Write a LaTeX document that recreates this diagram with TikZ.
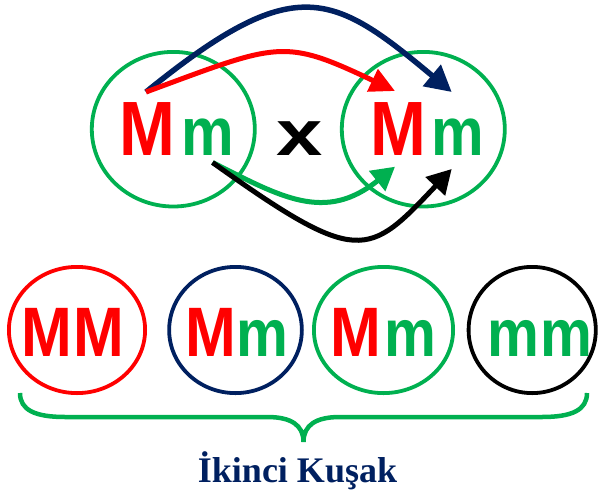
\documentclass[tikz,border=0pt]{standalone}
\usepackage{fontspec}
\usepackage{graphicx}
\usetikzlibrary{arrows.meta,shapes.geometric}
\newfontfamily\gfont{Liberation Sans}[FakeStretch=0.87]
\newfontfamily\xfont{Liberation Sans}
\newfontfamily\tfont{Liberation Serif}
\definecolor{gred}{HTML}{FF0000}
\definecolor{ggreen}{HTML}{00B050}
\definecolor{gnavy}{HTML}{002060}
\newcommand\domM[1]{{\fontsize{#1}{#1}\selectfont\color{gred}M}}
\newcommand\recm[1]{{\fontsize{#1}{#1}\selectfont\color{ggreen}m}}
\begin{document}
\begin{tikzpicture}[x=1pt,y=-1pt,
  ring/.style={ellipse, draw, line width=3.8pt, inner sep=0pt},
  geno/.style={anchor=base, inner sep=0pt, font=\gfont\bfseries},
  link/.style={line width=#1},
  link/.default=5pt
]
\useasboundingbox (0,0) rectangle (600,496);
% parent circles
\node[ring, draw=ggreen, minimum width=163pt, minimum height=154.6pt] (P1) at (173.3,129.2) {};
\node[ring, draw=ggreen, minimum width=163pt, minimum height=154.6pt] (P2) at (423.3,129.2) {};
% offspring circles
\node[ring, draw=gred,   minimum width=136.2pt, minimum height=126.2pt] (C1) at (77,330) {};
\node[ring, draw=gnavy,  minimum width=132.7pt, minimum height=126.2pt] (C2) at (235.5,330) {};
\node[ring, draw=ggreen, minimum width=139.2pt, minimum height=126.2pt] (C3) at (383.5,330) {};
\node[ring, draw=black,  minimum width=127.2pt, minimum height=126.2pt] (C4) at (532.2,330) {};
% parent genotypes
\node[geno] (T1) at (177,155) {\domM{77}\hspace{6pt}\recm{68}};
\node[geno] (T2) at (427.5,155) {\domM{77}\hspace{5pt}\recm{68}};
\node[anchor=base, inner sep=0pt] (cross) at (299.5,155) {\scalebox{1.3}[1]{\xfont\bfseries\fontsize{64}{64}\selectfont x}};
% offspring genotypes
\node[geno] (G1) at (73,356) {\domM{70}\hspace{1pt}\domM{70}};
\node[geno] (G2) at (237,356) {\domM{70}\hspace{1pt}\recm{67}};
\node[geno] (G3) at (383.5,356) {\domM{70}\hspace{2.5pt}\recm{67}};
\node[geno] (G4) at (540,356) {\recm{67}\hspace{1pt}\recm{67}};
% arrow ends
\coordinate (sM) at (146,92);
\coordinate (sm) at (212.5,162.5);
\coordinate (eM) at (395,91);
\coordinate (em) at (451.7,92);
\coordinate (fM) at (395,166.7);
\coordinate (fm) at (451.7,169);
% arrows
\draw[link=5.5pt, gnavy, -{Triangle[length=26pt,width=27pt]}] (sM) .. controls (295,-29) and (332,-8) .. (em);
\draw[link=5pt, gred, -{Triangle[length=25pt,width=24pt]}] (sM) .. controls (279,43) and (282.5,37.5) .. (eM);
\draw[link=5pt, ggreen, -{Triangle[length=23pt,width=25pt]}] (sm) .. controls (281,197) and (325,223) .. (fM);
\draw[link=5pt, black, -{Triangle[length=24pt,width=26pt]}] (sm) .. controls (359,267) and (368,257.5) .. (fm);
% brace
\coordinate (bL) at (20,393);
\coordinate (bM) at (303.5,442);
\coordinate (bR) at (587,393);
\draw[ggreen, line width=4.5pt] (bL) .. controls (20,410) and (35,417) .. (65,417) -- (267,417)
  .. controls (291,417) and (303.5,425) .. (bM)
  .. controls (303.5,425) and (316,417) .. (340,417) -- (542,417)
  .. controls (572,417) and (587,410) .. (bR);
% label
\node[anchor=base, inner sep=0pt, text=gnavy, font=\tfont\bfseries\fontsize{36}{40}\selectfont] (lbl) at (297.5,482) {İkinci Kuşak};
\end{tikzpicture}
\end{document}
